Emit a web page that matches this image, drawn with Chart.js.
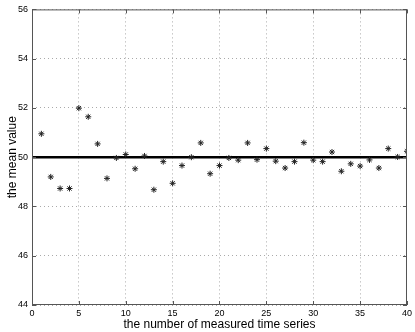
<!DOCTYPE html>
<html>
<head>
<meta charset="utf-8">
<script src="https://cdn.jsdelivr.net/npm/chart.js@4/dist/chart.umd.min.js"></script>
<style>
  html, body { margin: 0; padding: 0; background: #fff; }
  #wrap { width: 415px; height: 332px; }
</style>
</head>
<body>
<div id="wrap"><canvas id="meanChart"></canvas></div>
<script>
// series index (x) and measured mean values (y)
const seriesIndex = [1, 2, 3, 4, 5, 6, 7, 8, 9, 10, 11, 12, 13, 14, 15, 16, 17, 18, 19, 20,
    21, 22, 23, 24, 25, 26, 27, 28, 29, 30, 31, 32, 33, 34, 35, 36, 37, 38, 39, 40];
const meanValues = [50.95, 49.2, 48.73, 48.73, 51.99, 51.64, 50.54, 49.14, 49.97, 50.11,
    49.53, 50.05, 48.68, 49.82, 48.94, 49.66, 50.0, 50.58, 49.33, 49.66,
    49.97, 49.88, 50.58, 49.9, 50.35, 49.84, 49.56, 49.82, 50.59, 49.88,
    49.82, 50.21, 49.43, 49.73, 49.64, 49.89, 49.56, 50.35, 50.01, 50.24];
// reference level drawn as a thick line
const refX = [0, 40];
const refY = [50, 50];

const FONT = 'Helvetica, Arial, "Liberation Sans", sans-serif';

// box around the plot with inward ticks, like matlab
const frameTicks = {
    id: 'frameTicks',
    afterDatasetsDraw(chart) {
        const { ctx, chartArea: a, scales: { x, y } } = chart;
        ctx.save();
        ctx.strokeStyle = '#555';
        ctx.lineWidth = 1;
        ctx.strokeRect(a.left + 0.5, a.top + 0.5, a.right - a.left - 1, a.bottom - a.top - 1);
        ctx.beginPath();
        x.ticks.forEach(t => {
            const px = Math.round(x.getPixelForValue(t.value)) + 0.5;
            ctx.moveTo(px, a.bottom); ctx.lineTo(px, a.bottom - 4);
            ctx.moveTo(px, a.top); ctx.lineTo(px, a.top + 4);
        });
        y.ticks.forEach(t => {
            const py = Math.round(y.getPixelForValue(t.value)) + 0.5;
            ctx.moveTo(a.left, py); ctx.lineTo(a.left + 4, py);
            ctx.moveTo(a.right, py); ctx.lineTo(a.right - 4, py);
        });
        ctx.stroke();
        ctx.restore();
    }
};

new Chart(document.getElementById('meanChart'), {
    type: 'scatter',
    data: {
        datasets: [
            {
                label: 'mean',
                data: seriesIndex.map((v, i) => ({ x: v, y: meanValues[i] })),
                pointStyle: 'star',
                pointRadius: 3,
                borderColor: '#222',
                borderWidth: 1,
                backgroundColor: '#222'
            },
            {
                label: 'level',
                type: 'line',
                data: refX.map((v, i) => ({ x: v, y: refY[i] })),
                borderColor: '#000',
                borderWidth: 2.5,
                pointRadius: 0
            }
        ]
    },
    options: {
        responsive: true,
        maintainAspectRatio: false,
        animation: false,
        layout: { padding: { top: 8, right: 8, left: 0, bottom: 0 } },
        plugins: {
            legend: { display: false },
            tooltip: { enabled: false }
        },
        scales: {
            x: {
                type: 'linear',
                min: 0,
                max: 40,
                ticks: { stepSize: 5, color: '#000', padding: 3, font: { family: FONT, size: 9 } },
                grid: { color: '#aaa', borderDash: [1, 3], drawTicks: false },
                border: { display: false, dash: [1, 3] },
                title: {
                    display: true,
                    text: 'the number of measured time series',
                    color: '#000',
                    padding: { top: 0, bottom: 0 },
                    font: { family: FONT, size: 12 }
                },
                afterFit: s => { s.height = 27; }
            },
            y: {
                min: 44,
                max: 56,
                ticks: { stepSize: 2, color: '#000', padding: 4, font: { family: FONT, size: 9 } },
                grid: { color: '#aaa', borderDash: [1, 3], drawTicks: false },
                border: { display: false, dash: [1, 3] },
                title: {
                    display: true,
                    text: 'the mean value',
                    color: '#000',
                    padding: { top: 5, bottom: 5 },
                    font: { family: FONT, size: 12 }
                },
                afterFit: s => { s.width = 32; }
            }
        }
    },
    plugins: [frameTicks]
});
</script>
</body>
</html>
